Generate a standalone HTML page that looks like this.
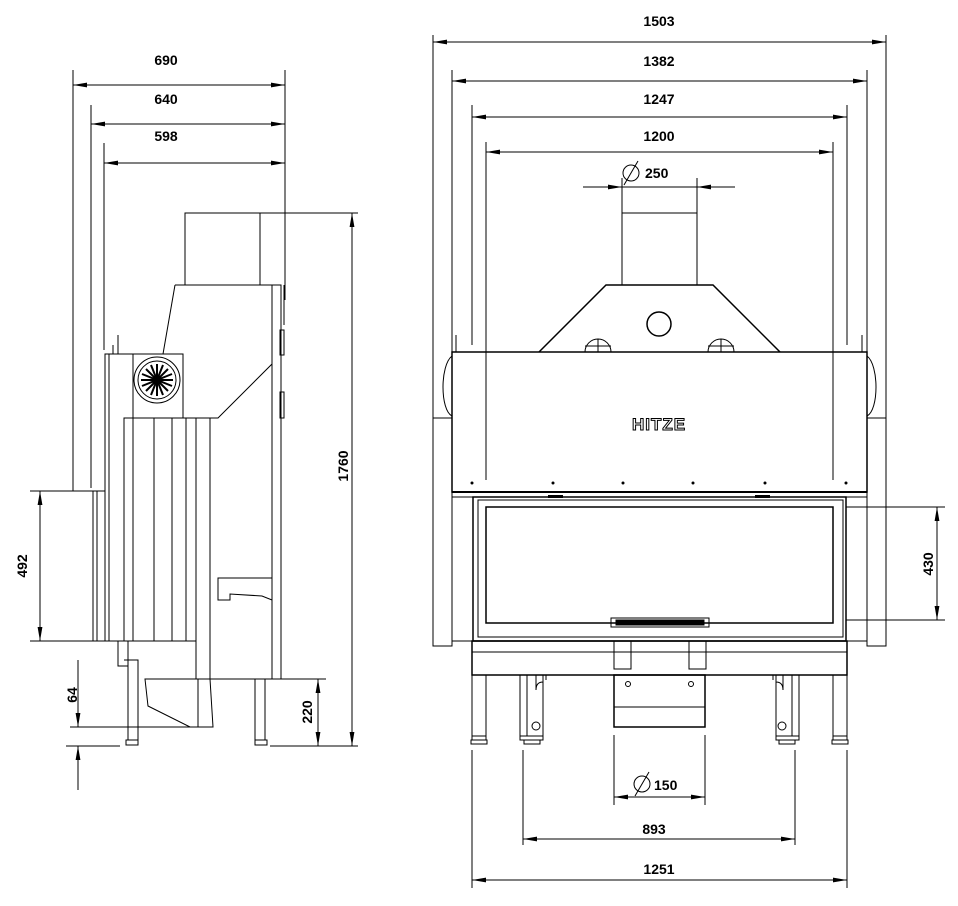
<!DOCTYPE html>
<html><head><meta charset="utf-8"><style>
html,body{margin:0;padding:0;background:#fff;}
svg{display:block}
text{font-family:"Liberation Sans",sans-serif;font-weight:bold;font-size:14px;fill:#000}
</style></head><body>
<svg width="958" height="906" viewBox="0 0 958 906" xmlns="http://www.w3.org/2000/svg">
<defs>
<marker id="ae" markerWidth="14" markerHeight="6" refX="14" refY="3" orient="auto" markerUnits="userSpaceOnUse"><path d="M0,0.6 L14,3 L0,5.4 Z" fill="#000"/></marker>
<marker id="as" markerWidth="14" markerHeight="6" refX="0" refY="3" orient="auto" markerUnits="userSpaceOnUse"><path d="M14,0.6 L0,3 L14,5.4 Z" fill="#000"/></marker>
</defs>
<g stroke="#000" stroke-width="1" fill="none">
<!-- SIDE VIEW extension lines -->
<line x1="73" y1="70" x2="73" y2="491"/>
<line x1="91" y1="105" x2="91" y2="488"/>
<line x1="104" y1="143" x2="104" y2="350"/>
<line x1="285" y1="70" x2="285" y2="300"/>
<!-- side dims -->
<line x1="73" y1="85" x2="285" y2="85" marker-start="url(#as)" marker-end="url(#ae)"/>
<line x1="91" y1="124" x2="285" y2="124" marker-start="url(#as)" marker-end="url(#ae)"/>
<line x1="104" y1="163" x2="285" y2="163" marker-start="url(#as)" marker-end="url(#ae)"/>
<!-- 1760 -->
<line x1="260" y1="213" x2="358" y2="213"/>
<line x1="270" y1="746" x2="358" y2="746"/>
<line x1="352" y1="213" x2="352" y2="746" marker-start="url(#as)" marker-end="url(#ae)"/>
<!-- 220 -->
<line x1="262" y1="679" x2="326" y2="679"/>
<line x1="318" y1="679" x2="318" y2="746" marker-start="url(#as)" marker-end="url(#ae)"/>
<!-- 492 -->
<line x1="30" y1="491" x2="100" y2="491"/>
<line x1="30" y1="641" x2="100" y2="641"/>
<line x1="40" y1="491" x2="40" y2="641" marker-start="url(#as)" marker-end="url(#ae)"/>
<!-- 64 -->
<line x1="70" y1="727" x2="200" y2="727"/>
<line x1="66" y1="746" x2="120" y2="746"/>
<line x1="78" y1="660" x2="78" y2="727" marker-end="url(#ae)"/>
<line x1="78" y1="790" x2="78" y2="746" marker-end="url(#ae)"/>

<!-- side body -->
<rect x="185" y="213" width="75" height="72"/>
<path d="M175,285 L272,285 L272,364 L218,418 L124,418"/>
<path d="M175,285 L163,354"/>
<line x1="284" y1="285" x2="284" y2="325"/>
<rect x="272" y="285" width="9" height="394"/>
<rect x="280" y="330" width="4" height="25"/>
<rect x="280" y="392" width="4" height="26"/>
<rect x="105" y="354" width="28" height="287"/>
<rect x="109" y="354" width="24" height="287"/>
<line x1="118" y1="335" x2="118" y2="354"/>
<line x1="113" y1="345" x2="113" y2="354"/>
<rect x="133" y="354" width="50" height="64"/>
<circle cx="157" cy="380" r="23"/>
<circle cx="157" cy="380" r="19"/>
<g stroke-width="2">
<line x1="157" y1="364" x2="157" y2="396"/><line x1="141" y1="380" x2="173" y2="380"/>
<line x1="146" y1="369" x2="168" y2="391"/><line x1="168" y1="369" x2="146" y2="391"/>
<line x1="151" y1="365" x2="163" y2="395"/><line x1="142" y1="374" x2="172" y2="386"/>
<line x1="142" y1="386" x2="172" y2="374"/><line x1="151" y1="395" x2="163" y2="365"/>
</g>
<rect x="124" y="418" width="72" height="223"/>
<line x1="154" y1="418" x2="154" y2="641"/>
<line x1="172" y1="418" x2="172" y2="641"/>
<line x1="186" y1="418" x2="186" y2="641"/>
<rect x="196" y="418" width="14" height="261"/>
<rect x="93" y="491" width="12" height="150"/>
<line x1="97" y1="491" x2="97" y2="641"/>
<path d="M218,578 L272,578 L272,600 L262,596 L230,594 L230,600 L218,600 Z"/>
<line x1="210" y1="679" x2="272" y2="679"/>
<path d="M128,641 L128,740 L138,740 L138,660 L124,660"/>
<rect x="118" y="641" width="10" height="25"/>
<path d="M145,679 L210,679 L213,727 L190,727 L148,706 Z"/>
<line x1="198" y1="679" x2="198" y2="727"/>
<path d="M255,679 L255,740 L265,740 L265,679"/>
<rect x="126" y="740" width="12" height="5"/><rect x="255" y="740" width="12" height="5"/>

<!-- FRONT VIEW extension lines -->
<line x1="433" y1="35" x2="433" y2="418"/>
<line x1="886" y1="35" x2="886" y2="418"/>
<line x1="452" y1="70" x2="452" y2="352"/>
<line x1="867" y1="70" x2="867" y2="352"/>
<line x1="472" y1="105" x2="472" y2="345"/>
<line x1="847" y1="105" x2="847" y2="345"/>
<line x1="486" y1="142" x2="486" y2="480"/>
<line x1="833" y1="142" x2="833" y2="480"/>
<line x1="622" y1="178" x2="622" y2="213"/>
<line x1="697" y1="178" x2="697" y2="213"/>
<line x1="433" y1="42" x2="886" y2="42" marker-start="url(#as)" marker-end="url(#ae)"/>
<line x1="452" y1="81" x2="867" y2="81" marker-start="url(#as)" marker-end="url(#ae)"/>
<line x1="472" y1="117" x2="847" y2="117" marker-start="url(#as)" marker-end="url(#ae)"/>
<line x1="486" y1="152" x2="833" y2="152" marker-start="url(#as)" marker-end="url(#ae)"/>
<line x1="583" y1="187" x2="622" y2="187" marker-end="url(#ae)"/>
<line x1="735" y1="187" x2="697" y2="187" marker-end="url(#ae)"/>
<line x1="622" y1="187" x2="697" y2="187"/>
<!-- 430 -->
<line x1="846" y1="507" x2="945" y2="507"/>
<line x1="846" y1="620" x2="945" y2="620"/>
<line x1="937" y1="507" x2="937" y2="620" marker-start="url(#as)" marker-end="url(#ae)"/>
<!-- bottom dims -->
<line x1="614" y1="735" x2="614" y2="805"/><line x1="705" y1="735" x2="705" y2="805"/>
<line x1="614" y1="797" x2="705" y2="797" marker-start="url(#as)" marker-end="url(#ae)"/>
<line x1="523" y1="750" x2="523" y2="845"/><line x1="795" y1="750" x2="795" y2="845"/>
<line x1="523" y1="839" x2="795" y2="839" marker-start="url(#as)" marker-end="url(#ae)"/>
<line x1="472" y1="750" x2="472" y2="888"/><line x1="847" y1="750" x2="847" y2="888"/>
<line x1="472" y1="880" x2="847" y2="880" marker-start="url(#as)" marker-end="url(#ae)"/>

<!-- front body -->
<rect x="622" y="213" width="75" height="72"/>
<path d="M539,352 L606,285 L713,285 L780,352" stroke-width="1.5"/>
<circle cx="659" cy="324" r="12" stroke-width="1.5"/>
<path d="M585,352 A13,13 0 0 1 611,352 M598,339 L598,352 M585,346 L611,346"/>
<path d="M708,352 A13,13 0 0 1 734,352 M721,339 L721,352 M708,346 L734,346"/>
<rect x="452" y="352" width="415" height="140" stroke-width="1.5"/>
<line x1="452" y1="497" x2="867" y2="497"/>
<line x1="452" y1="492" x2="867" y2="492" stroke-width="2"/>
<line x1="456" y1="335" x2="456" y2="352"/><line x1="862" y1="335" x2="862" y2="352"/>
<path d="M452,356 C440,365 440,410 452,416"/>
<path d="M867,356 C879,365 879,410 867,416"/>
<rect x="433" y="418" width="19" height="228"/>
<rect x="867" y="418" width="19" height="228"/>
<rect x="452" y="497" width="21" height="144"/>
<rect x="846" y="497" width="21" height="144"/>
<rect x="473" y="497" width="373" height="144" stroke-width="1.5"/>
<rect x="478" y="500" width="365" height="137"/>
<rect x="486" y="507" width="347" height="116" stroke-width="1.5"/>
<rect x="611" y="618" width="98" height="9"/>
<rect x="616" y="620" width="88" height="5" fill="#000"/>
<rect x="472" y="641" width="375" height="34" stroke-width="1.5"/>
<line x1="472" y1="652" x2="847" y2="652"/>
<rect x="614" y="641" width="17" height="28"/>
<rect x="689" y="641" width="17" height="28"/>
<rect x="472" y="675" width="14" height="61"/>
<rect x="833" y="675" width="14" height="61"/>
<path d="M520,675 L520,736 L543,736 L543,675 M527,675 L527,736 M536,675 L536,690 Q536,682 543,682"/>
<path d="M776,675 L776,736 L799,736 L799,675 M792,675 L792,736 M783,675 L783,690 Q783,682 776,682"/>
<circle cx="536" cy="726" r="4"/><circle cx="782" cy="726" r="4"/>
<rect x="614" y="675" width="91" height="52" stroke-width="1.5"/>
<line x1="614" y1="707" x2="705" y2="707"/>
<circle cx="628" cy="684" r="2.5"/><circle cx="691" cy="684" r="2.5"/>
<line x1="546" y1="675" x2="546" y2="680"/><line x1="773" y1="675" x2="773" y2="680"/>
<path d="M472,736 h14 v4 h-14 z M520,736 h23 v4 h-23 z M776,736 h23 v4 h-23 z M833,736 h14 v4 h-14 z"/>
<path d="M471,740 h16 v4 h-16 z M524,740 h16 v4 h-16 z M779,740 h16 v4 h-16 z M832,740 h16 v4 h-16 z"/>
<!-- diameter symbols -->
<circle cx="631" cy="173" r="8"/><line x1="624" y1="185" x2="638" y2="161"/>
<circle cx="642" cy="784" r="8"/><line x1="635" y1="796" x2="649" y2="772"/>
</g>
<g fill="#000">
<circle cx="472" cy="483" r="1.5"/><circle cx="846" cy="483" r="1.5"/>
<circle cx="553" cy="483" r="1.5"/><circle cx="623" cy="483" r="1.5"/><circle cx="693" cy="483" r="1.5"/><circle cx="765" cy="483" r="1.5"/>
<rect x="548" y="495" width="15" height="3"/><rect x="755" y="495" width="15" height="3"/>
</g>
<text x="166" y="65" text-anchor="middle">690</text>
<text x="166" y="104" text-anchor="middle">640</text>
<text x="166" y="141" text-anchor="middle">598</text>
<text x="659" y="26" text-anchor="middle">1503</text>
<text x="659" y="66" text-anchor="middle">1382</text>
<text x="659" y="104" text-anchor="middle">1247</text>
<text x="659" y="141" text-anchor="middle">1200</text>
<text x="645" y="178">250</text>
<text x="654" y="790">150</text>
<text x="654" y="834" text-anchor="middle">893</text>
<text x="659" y="874" text-anchor="middle">1251</text>
<text transform="translate(348,466) rotate(-90)" text-anchor="middle">1760</text>
<text transform="translate(312,712) rotate(-90)" text-anchor="middle">220</text>
<text transform="translate(27,566) rotate(-90)" text-anchor="middle">492</text>
<text transform="translate(77,695) rotate(-90)" text-anchor="middle">64</text>
<text transform="translate(933,564) rotate(-90)" text-anchor="middle">430</text>
<text x="659" y="430" text-anchor="middle" style="font-size:17px;fill:#fff;stroke:#000;stroke-width:1;letter-spacing:1px">HITZE</text>
</svg>
</body></html>
